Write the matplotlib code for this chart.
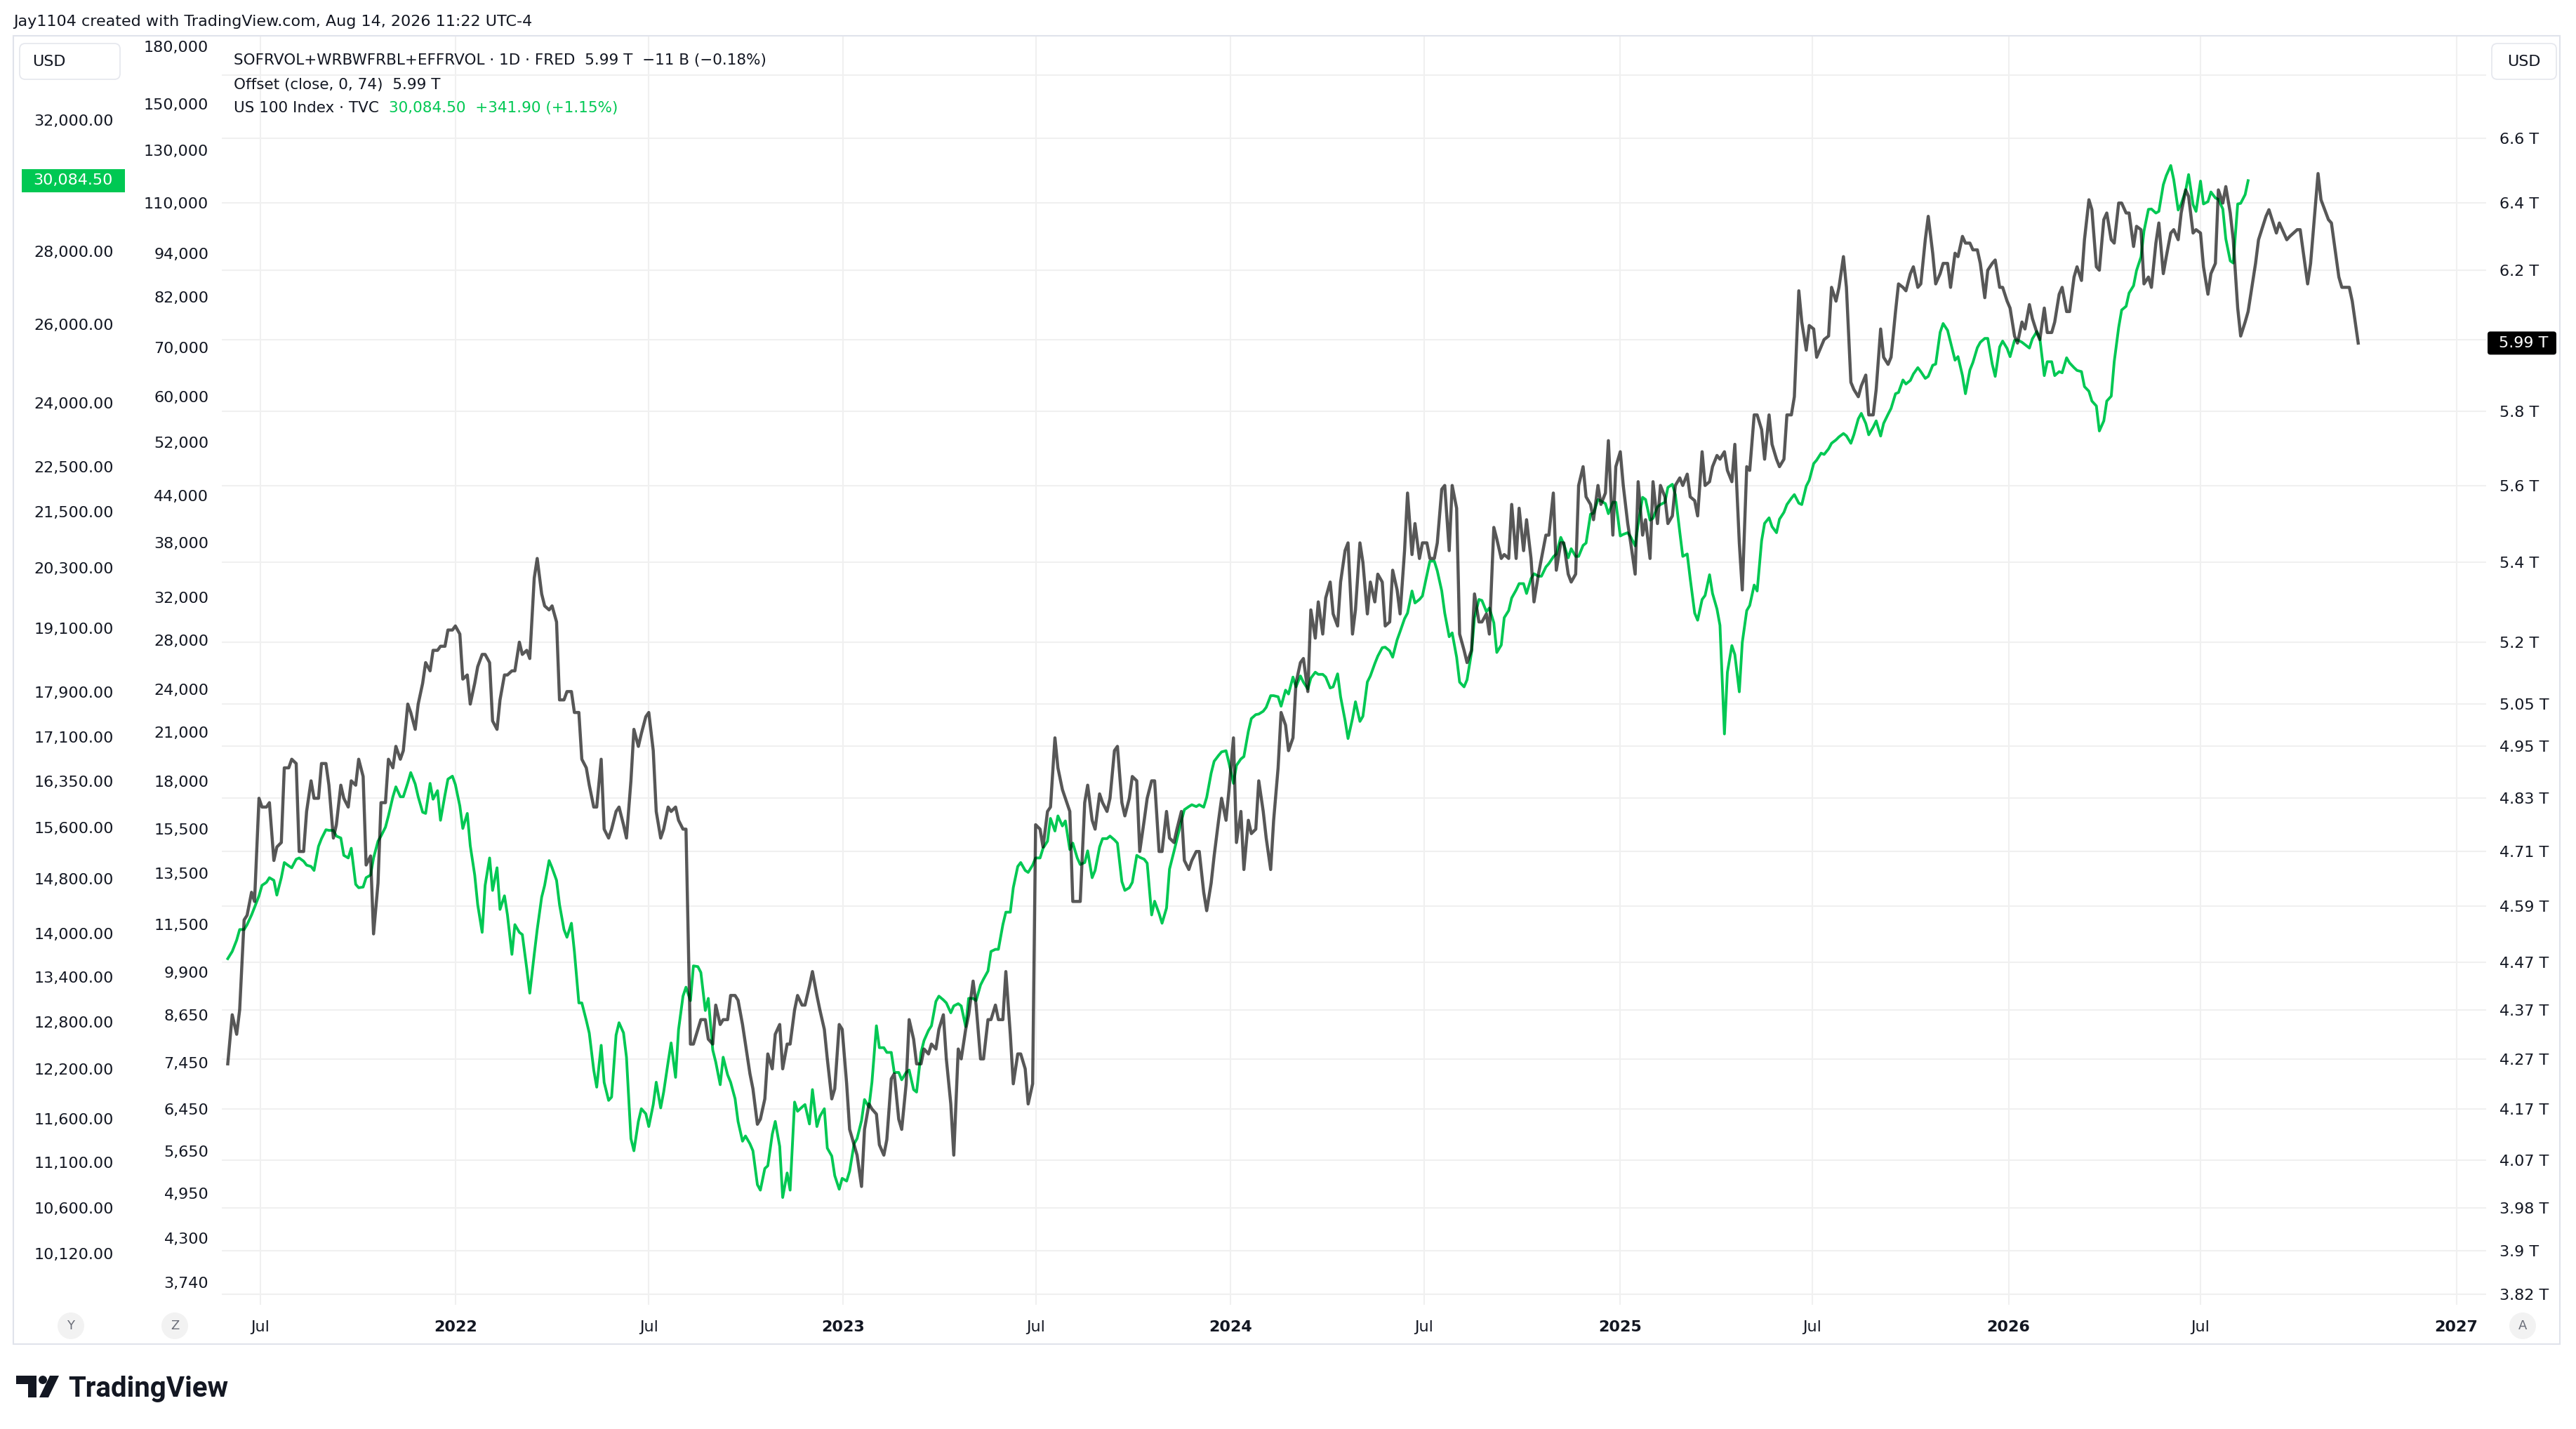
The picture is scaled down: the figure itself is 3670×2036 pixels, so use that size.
import numpy as np
import pandas as pd
import matplotlib
matplotlib.use("Agg")
import matplotlib.pyplot as plt
import matplotlib.dates as mdates
from matplotlib.patches import Rectangle, FancyBboxPatch, Ellipse, Polygon
from matplotlib.ticker import NullLocator, NullFormatter
from matplotlib.transforms import IdentityTransform

W, H = 3670, 2036
DPI = 100

# ---------------- data ----------------
LAST_BAR = "2026-08-14"
START = "2021-06-01"

# US 100 Index (TVC) - Friday readings
green_fri_dates = pd.DatetimeIndex([START]).append(
    pd.date_range("2021-06-04", LAST_BAR, freq="W-FRI"))
green_fri_values = [
    13650,
    13750, 14060, 14130, 14380, 14705, 14820, 14560, 15050, 14970, 15120,
    15010, 14930, 15420, 15550, 15460, 15160, 15270, 14670, 14820, 15120,
    15460, 15780, 16253, 16090, 16490, 16090, 15820, 16050, 15710, 16380,
    16290, 15580, 15310, 14420, 14705, 14630, 14350, 14270, 14130, 13988,
    13180, 14060, 14705, 14970, 14420, 13950, 13750, 13050, 12656, 11980,
    12038, 11860, 12790, 12350, 11230, 11720, 11510, 12040, 11920, 12530,
    12700, 13260, 13550, 13460, 13110, 12290, 12350, 12040, 11570, 11400,
    11230, 10790, 11060, 11570, 10710, 10790, 11690, 11770, 11950, 11630,
    11260, 10950, 10920, 11000, 11370, 11830, 12040, 12470, 12410, 12160,
    12070, 12190, 11920, 12560, 12750, 13140, 13050, 13010, 13010, 13110,
    13080, 13370, 13750, 13780, 14310, 14670, 15050, 14900, 15120, 15270,
    15740, 15780, 15700, 15350, 15020, 15230, 14930, 15420, 15460, 15350,
    14630, 14750, 15130, 15040, 14470, 14150, 14950, 15410, 15880, 15960,
    15960, 16080, 16680, 16840, 16650, 16610, 16760, 17420, 17500, 17620,
    17830, 17640, 17860, 17990, 18077, 18150, 18220, 18170, 17990, 17810,
    17070, 17720, 17460, 18190, 18560, 18730, 18540, 19030, 19390, 19590,
    19730, 20440, 20240, 19390, 19004, 18077, 18120, 19300, 19640, 19490,
    18630, 19300, 19690, 19979, 19780, 20180, 20130, 20390, 20590, 20800,
    20700, 20540, 20820, 21460, 21730, 21450, 21700, 21004, 20950, 21220,
    21760, 21350, 21650, 22030, 21870, 20540, 20080, 19250, 19740, 19780,
    19150, 18260, 18590, 18820, 19540, 19830, 21240, 21170, 21330, 21650,
    21870, 21650, 22190, 22650, 22780, 23040, 23190, 23214, 23240, 23750,
    23240, 23570, 23510, 23870, 24260, 24470, 24720, 24780, 24660, 24970,
    26020, 25530, 25160, 24230, 25010, 25530, 25630, 24660, 25560, 25160,
    25590, 25470, 25620, 25630, 25030, 24680, 24750, 25000, 24810, 24405,
    24050, 23330, 24050, 25030, 26380, 26840, 27460, 28580, 29230, 29160,
    30240, 30120, 29380, 30270, 29160, 29380, 29740, 29520, 28357, 27670,
    29400, 30084.5]

# US 100 Index (TVC) - Wednesday readings
green_wed_dates = pd.date_range("2021-06-09", "2026-08-12", freq="W-WED")
green_wed_values = [
    13910, 14060, 14270, 14550, 14750, 14780, 14820, 15000, 15100, 15070,
    14990, 15300, 15560, 15550, 15430, 15120, 14720, 14680, 14860, 15380,
    15600, 16090, 16090, 16320, 16300, 15840, 16310, 16190, 16120, 16430,
    15940, 15820, 14860, 14020, 15120, 14970, 14550, 13710, 14020, 13510,
    13710, 14530, 15080, 14780, 14060, 14150, 13050, 12820, 12190, 12500,
    11820, 12630, 12660, 11370, 11570, 11660, 11770, 11730, 12290, 12100,
    13140, 13080, 13540,
    12950, 12440, 12010, 12130, 11840, 11340, 11310, 10850, 11030, 11420,
    11280, 10980, 11800, 11740, 11540, 11510, 11720, 11170, 10800, 10890,
    11310, 11580, 11740, 12750, 12470, 12410, 12160, 12160, 11950, 12410,
    12690, 13070, 13090, 12920, 13040, 12740, 13110, 13290, 13480, 13780,
    14130, 14310, 14990, 14930, 15010, 15120, 15380, 15540, 15620, 15250,
    15120, 15050, 14820, 15290, 15420, 15400, 14760, 14670, 15160, 15100,
    14270,
    14290, 14370, 15220, 15700, 15930, 15930, 15920, 16480, 16780, 16860,
    16310, 16720, 17195, 17490, 17550, 17830, 17810, 17930, 18170, 18190,
    17950, 18260, 18220, 17970, 18230, 17390, 17420, 17370, 18080, 18420,
    18720, 18660, 18870, 19280, 19830, 19660, 20150, 20440, 19830, 18930,
    18540, 17990, 18630, 19660, 19420, 19200, 18770, 19440, 19850, 19979,
    20080, 20130, 20320, 20530, 20940, 20510, 20540, 20770, 21440, 21760,
    21670, 21700,
    20970, 21040, 20760, 21810, 21310, 21600, 21700, 22100, 21050, 20590,
    19390, 19660, 20160, 19470, 17150, 18760, 17900, 19440, 19950, 20870,
    21360, 21040, 21480, 21790, 21680, 22060, 22570, 22810, 22910, 23120,
    23270, 23040, 23620, 23510, 23420, 23210, 23730, 24230, 24570, 24560,
    24880, 24610, 24940, 25790, 25840, 25070, 24680, 24820, 25390, 25630,
    24970, 25410, 25370, 25580, 25530, 25380, 25810, 24680, 25030, 24780,
    25130,
    24880, 24780, 24290, 23930, 23570, 24170, 25920, 26480, 27040, 27840,
    29220, 29110, 29960, 30550, 29200, 29780, 29360, 30070, 29450, 29560,
    29230, 27730, 29380, 29660]

# Offset(close, 0, 74) of SOFRVOL+WRBWFRBL+EFFRVOL, trillions USD - Friday readings
gray_fri_dates = pd.DatetimeIndex([START]).append(
    pd.date_range("2021-06-04", "2026-10-23", freq="W-FRI")).append(
    pd.DatetimeIndex(["2026-10-27"]))
gray_fri_values = [
    4.26,
    4.36, 4.37, 4.57, 4.60, 4.81, 4.82, 4.72, 4.90, 4.92, 4.71,
    4.80, 4.83, 4.91, 4.86, 4.77, 4.83, 4.87, 4.92, 4.68, 4.53,
    4.82, 4.92, 4.95, 4.94, 5.03, 5.05, 5.15, 5.18, 5.19, 5.23,
    5.24, 5.11, 5.05, 5.14, 5.17, 5.01, 5.06, 5.12, 5.13, 5.17,
    5.16, 5.41, 5.29, 5.29, 5.06, 5.08, 5.03, 4.92, 4.86, 4.81,
    4.76, 4.76, 4.81, 4.74, 4.99, 4.98, 5.03, 4.80, 4.76, 4.80,
    4.78, 4.76, 4.30, 4.35, 4.31, 4.38, 4.35, 4.40, 4.39, 4.30,
    4.21, 4.15, 4.28, 4.32, 4.25, 4.30, 4.40, 4.38, 4.45, 4.37,
    4.27, 4.21, 4.33, 4.13, 4.08, 4.13, 4.17, 4.10, 4.11, 4.24,
    4.13, 4.35, 4.26, 4.29, 4.30, 4.33, 4.27, 4.08, 4.27, 4.36,
    4.38, 4.27, 4.35, 4.35, 4.45, 4.22, 4.28, 4.18, 4.77, 4.72,
    4.81, 4.90, 4.83, 4.60, 4.60, 4.86, 4.76, 4.82, 4.83, 4.95,
    4.79, 4.88, 4.71, 4.83, 4.87, 4.71, 4.74, 4.76, 4.69, 4.69,
    4.71, 4.58, 4.70, 4.83, 4.85, 4.73, 4.67, 4.75, 4.87, 4.74,
    4.78, 5.03, 4.94, 5.10, 5.16, 5.28, 5.30, 5.31, 5.27, 5.35,
    5.45, 5.28, 5.40, 5.35, 5.37, 5.24, 5.38, 5.27, 5.58, 5.50,
    5.45, 5.41, 5.45, 5.60, 5.60, 5.22, 5.15, 5.32, 5.25, 5.22,
    5.46, 5.42, 5.55, 5.54, 5.51, 5.30, 5.41, 5.47, 5.38, 5.45,
    5.35, 5.60, 5.57, 5.51, 5.55, 5.72, 5.65, 5.60, 5.45, 5.61,
    5.51, 5.61, 5.60, 5.50, 5.60, 5.60, 5.57, 5.52, 5.60, 5.65,
    5.67, 5.64, 5.71, 5.33, 5.64, 5.79, 5.67, 5.71, 5.65, 5.79,
    5.84, 6.05, 6.04, 5.95, 6.00, 6.15, 6.15, 6.15, 5.86, 5.87,
    5.79, 5.86, 5.95, 5.95, 6.16, 6.14, 6.21, 6.16, 6.36, 6.16,
    6.22, 6.15, 6.24, 6.28, 6.26, 6.22, 6.20, 6.23, 6.15, 6.09,
    5.99, 6.03, 6.06, 6.00, 6.02, 6.05, 6.15, 6.08, 6.21, 6.29,
    6.38, 6.20, 6.37, 6.28, 6.40, 6.37, 6.33, 6.16, 6.15, 6.34,
    6.24, 6.32, 6.37, 6.42, 6.32, 6.21, 6.19, 6.44, 6.45, 6.29,
    6.01, 6.08,
    6.29, 6.38, 6.34, 6.30, 6.32, 6.22, 6.41, 6.34, 6.15, 6.11,
    5.99]

# Offset series - Wednesday readings
gray_wed_dates = pd.date_range("2021-06-09", "2026-10-21", freq="W-WED")
gray_wed_values = [
    4.32, 4.56, 4.62, 4.83, 4.81, 4.69, 4.73, 4.90, 4.91, 4.71,
    4.87, 4.83, 4.91, 4.74, 4.86, 4.81, 4.86, 4.88, 4.70, 4.64,
    4.82, 4.90, 4.92, 5.05, 4.99, 5.10, 5.13, 5.18, 5.19, 5.23,
    5.22, 5.12, 5.10, 5.17, 5.15, 4.99, 5.12, 5.13, 5.20, 5.18,
    5.36, 5.32, 5.28, 5.25, 5.06, 5.08, 5.03, 4.90, 4.81, 4.92,
    4.74, 4.80, 4.77, 4.87, 4.95, 5.02, 4.94, 4.74, 4.81, 4.81,
    4.76, 4.30, 4.33,
    4.35, 4.30, 4.34, 4.35, 4.40, 4.34, 4.24, 4.14, 4.19, 4.25,
    4.34, 4.30, 4.37, 4.38, 4.42, 4.40, 4.33, 4.19, 4.34, 4.22,
    4.10, 4.02, 4.18, 4.16, 4.08, 4.23, 4.15, 4.22, 4.31, 4.26,
    4.28, 4.29, 4.36, 4.18, 4.29, 4.33, 4.43, 4.27, 4.35, 4.38,
    4.35, 4.32, 4.28, 4.25, 4.22, 4.76, 4.80, 4.97, 4.85, 4.80,
    4.60, 4.82, 4.78, 4.84, 4.80, 4.94, 4.82, 4.83, 4.87, 4.78,
    4.87,
    4.71, 4.80, 4.73, 4.80, 4.67, 4.71, 4.62, 4.64, 4.78, 4.78,
    4.97, 4.80, 4.78, 4.76, 4.80, 4.67, 4.90, 5.00, 4.97, 5.15,
    5.08, 5.21, 5.22, 5.35, 5.24, 5.43, 5.22, 5.45, 5.27, 5.30,
    5.35, 5.25, 5.33, 5.43, 5.42, 5.41, 5.45, 5.41, 5.59, 5.43,
    5.54, 5.18, 5.18, 5.25, 5.27, 5.49, 5.41, 5.41, 5.41, 5.43,
    5.41, 5.37, 5.47, 5.58, 5.45, 5.37, 5.37, 5.65, 5.55, 5.60,
    5.58, 5.47,
    5.69, 5.50, 5.37, 5.47, 5.41, 5.50, 5.57, 5.52, 5.62, 5.63,
    5.56, 5.69, 5.61, 5.68, 5.69, 5.61, 5.45, 5.65, 5.79, 5.75,
    5.79, 5.67, 5.67, 5.79, 6.14, 5.97, 6.03, 5.98, 6.01, 6.11,
    6.24, 5.88, 5.84, 5.90, 5.79, 6.03, 5.93, 6.08, 6.15, 6.19,
    6.15, 6.29, 6.25, 6.19, 6.22, 6.25, 6.30, 6.28, 6.26, 6.12,
    6.22, 6.15, 6.11, 6.01, 6.05, 6.10, 6.02, 6.09, 6.02, 6.13,
    6.08,
    6.18, 6.17, 6.41, 6.21, 6.35, 6.29, 6.40, 6.37, 6.27, 6.32,
    6.18, 6.28, 6.19, 6.31, 6.29, 6.44, 6.31, 6.31, 6.13, 6.22,
    6.40, 6.37, 6.09, 6.05,
    6.22, 6.36, 6.31, 6.29, 6.32, 6.16, 6.49, 6.35, 6.18, 6.15]

green_ticks = [32000, 28000, 26000, 24000, 22500, 21500, 20300, 19100, 17900,
               17100, 16350, 15600, 14800, 14000, 13400, 12800, 12200, 11600,
               11100, 10600, 10120]
inner_ticks = [180000, 150000, 130000, 110000, 94000, 82000, 70000, 60000,
               52000, 44000, 38000, 32000, 28000, 24000, 21000, 18000, 15500,
               13500, 11500, 9900, 8650, 7450, 6450, 5650, 4950, 4300, 3740]
gray_ticks = [6.8, 6.6, 6.4, 6.2, 6.0, 5.8, 5.6, 5.4, 5.2, 5.05, 4.95, 4.83,
              4.71, 4.59, 4.47, 4.37, 4.27, 4.17, 4.07, 3.98, 3.9, 3.82]
gray_tick_labels = ["", "6.6 T", "6.4 T", "6.2 T", "", "5.8 T", "5.6 T",
                    "5.4 T", "5.2 T", "5.05 T", "4.95 T", "4.83 T", "4.71 T",
                    "4.59 T", "4.47 T", "4.37 T", "4.27 T", "4.17 T", "4.07 T",
                    "3.98 T", "3.9 T", "3.82 T"]
x_tick_dates = ["2021-07-01", "2022-01-01", "2022-07-01", "2023-01-01",
                "2023-07-01", "2024-01-01", "2024-07-01", "2025-01-01",
                "2025-07-01", "2026-01-01", "2026-07-01", "2027-01-01"]
x_tick_labels = ["Jul", "2022", "Jul", "2023", "Jul", "2024", "Jul", "2025",
                 "Jul", "2026", "Jul", "2027"]

GREEN = "#00c853"
TXT = "#131722"
GRID = "#f0f0f0"

# ---------------- bar-based time scale (TradingView style) ----------------
bdays = pd.bdate_range("2020-11-02", LAST_BAR)
fdays = pd.date_range(pd.Timestamp(LAST_BAR) + pd.Timedelta(days=1), "2027-08-01")
alld = bdays.append(fdays)
XP = mdates.date2num(alld.to_pydatetime())
FP = np.arange(len(alld), dtype=float)


def fwd(x):
    return np.interp(np.asarray(x, dtype=float), XP, FP)


def inv(b):
    return np.interp(np.asarray(b, dtype=float), FP, XP)


def dnum(d):
    return mdates.date2num(pd.DatetimeIndex(d).to_pydatetime())


def merge(d1, v1, d2, v2):
    n1 = min(len(d1), len(v1)); n2 = min(len(d2), len(v2))
    x = np.concatenate([dnum(d1[:n1]), dnum(d2[:n2])])
    y = np.concatenate([np.asarray(v1[:n1], float), np.asarray(v2[:n2], float)])
    o = np.argsort(x, kind="stable")
    return x[o], y[o]


gx, gy = merge(green_fri_dates, green_fri_values, green_wed_dates, green_wed_values)
kx, ky = merge(gray_fri_dates, gray_fri_values, gray_wed_dates, gray_wed_values)

# ---------------- figure ----------------
plt.rcParams["font.family"] = ["DejaVu Sans"]
fig = plt.figure(figsize=(W / DPI, H / DPI), dpi=DPI)
fig.patch.set_facecolor("white")
PX = IdentityTransform()

L, R, T, B = 316, 3542, 52, 1859
ax = fig.add_axes([L / W, 1 - B / H, (R - L) / W, (B - T) / H])
ax.set_xscale("function", functions=(fwd, inv))
ax.set_yscale("log")

ax_green = ax.twinx()
ax_inner = ax.twinx()
ax_gray = ax.twinx()

GRAY_LIM = (3.8013, 6.9245)
for a in (ax, ax_gray):
    a.set_yscale("log")
    a.set_ylim(*GRAY_LIM)
ax_green.set_yscale("log"); ax_green.set_ylim(9604, 34828)
ax_inner.set_yscale("log"); ax_inner.set_ylim(3489, 185423)

ax.set_xlim(dnum(["2021-05-26"])[0], dnum(["2027-01-21"])[0])

for a in (ax, ax_green, ax_inner, ax_gray):
    for s in a.spines.values():
        s.set_visible(False)
    a.yaxis.set_minor_locator(NullLocator())
    a.yaxis.set_minor_formatter(NullFormatter())

# base axes: grid + right price scale + time axis
ax.set_yticks(gray_ticks, gray_tick_labels)
ax.yaxis.set_minor_locator(NullLocator())
ax.yaxis.tick_right()
ax.tick_params(axis="y", which="both", length=0, pad=13.5, labelsize=16,
               labelcolor=TXT)
ax.set_xticks(dnum(x_tick_dates), x_tick_labels)
ax.xaxis.set_minor_locator(NullLocator())
ax.tick_params(axis="x", length=0, pad=16, labelsize=16, labelcolor=TXT)
for lab in ax.get_xticklabels():
    if lab.get_text().isdigit():
        lab.set_fontweight("bold")
ax.grid(True, color=GRID, lw=1.5)
ax.set_axisbelow(True)

# green scale (outer left)
ax_green.plot(gx, gy, color=GREEN, lw=2.8, solid_joinstyle="round")
ax_green.yaxis.set_ticks_position("left")
ax_green.set_yticks(green_ticks, [f"{v:,.2f}" for v in green_ticks])
ax_green.yaxis.set_minor_locator(NullLocator())
ax_green.tick_params(axis="y", which="both", length=0, pad=111, labelsize=16,
                     labelcolor=TXT, left=False, right=False)

# inner left scale
ax_inner.yaxis.set_ticks_position("left")
ax_inner.set_yticks(inner_ticks, [f"{v:,}" for v in inner_ticks])
ax_inner.yaxis.set_minor_locator(NullLocator())
ax_inner.tick_params(axis="y", which="both", length=0, pad=13.5, labelsize=16,
                     labelcolor=TXT, left=False, right=False)

# gray offset series
ax_gray.plot(kx, ky, color="black", alpha=0.66, lw=3.2, solid_joinstyle="round")
ax_gray.set_yticks([])
ax_gray.tick_params(axis="y", which="both", left=False, right=False,
                    labelleft=False, labelright=False)

# ---------------- decorations (pixel coordinates) ----------------
def P(x, y):
    return (x, H - y)


fig.add_artist(Rectangle(P(19, 1915), 3628, 1864, transform=PX, fill=False,
                         edgecolor="#e0e3eb", lw=1.5))

fig.text(*P(19, 31), "Jay1104 created with TradingView.com, Aug 14, 2026 11:22 UTC-4",
         transform=PX, fontsize=16, color=TXT, va="center", ha="left")

LEG = 15.5
fig.text(*P(333, 86), "SOFRVOL+WRBWFRBL+EFFRVOL · 1D · FRED  5.99 T  \u221211 B (\u22120.18%)",
         transform=PX, fontsize=LEG, color=TXT, va="center", ha="left")
fig.text(*P(333, 121), "Offset (close, 0, 74)  5.99 T", transform=PX,
         fontsize=LEG, color=TXT, va="center", ha="left")
t3 = fig.text(*P(333, 154), "US 100 Index · TVC", transform=PX,
              fontsize=LEG, color=TXT, va="center", ha="left")
fig.add_artist(matplotlib.text.Annotation(
    "30,084.50  +341.90 (+1.15%)", xy=(1, 0.5), xycoords=t3,
    xytext=(14, 0), textcoords="offset pixels", va="center", ha="left",
    fontsize=LEG, color=GREEN))

# USD boxes
for (x0, x1) in ((28, 171), (3550, 3642)):
    fig.add_artist(FancyBboxPatch(P(x0, 113), x1 - x0, 51, transform=PX,
                                  boxstyle="round,pad=0,rounding_size=8",
                                  facecolor="white", edgecolor="#e6e8ee", lw=1.3))
fig.text(*P(46, 88), "USD", transform=PX, fontsize=16, color=TXT,
         va="center", ha="left")
fig.text(*P(3596, 88), "USD", transform=PX, fontsize=16, color=TXT,
         va="center", ha="center")

# last-value labels
yg = ax_green.transData.transform((gx[-1], gy[-1]))[1]
fig.add_artist(Rectangle((31, yg - 16.5), 147, 33, transform=PX,
                         facecolor=GREEN, edgecolor="none"))
fig.text(104, yg, "30,084.50", transform=PX, fontsize=16, color="white",
         va="center", ha="center")
yk = ax_gray.transData.transform((kx[-1], ky[-1]))[1]
fig.add_artist(FancyBboxPatch((3544, yk - 16.5), 98, 33, transform=PX,
                              boxstyle="round,pad=0,rounding_size=4",
                              facecolor="black", edgecolor="none"))
fig.text(3560, yk, "5.99 T", transform=PX, fontsize=16, color="white",
         va="center", ha="left")

# bottom buttons
for (cx, lab) in ((101, "Y"), (249, "Z"), (3594, "A")):
    fig.add_artist(Ellipse(P(cx, 1889), 38, 38, transform=PX,
                           facecolor="#f2f2f2", edgecolor="none"))
    fig.text(*P(cx, 1889), lab, transform=PX, fontsize=13, color="#6a6d78",
             va="center", ha="center")

# TradingView logo
fig.add_artist(Rectangle(P(23, 1972), 29, 12, transform=PX, facecolor="#131722",
                         edgecolor="none"))
fig.add_artist(Rectangle(P(40, 1991), 12, 31, transform=PX, facecolor="#131722",
                         edgecolor="none"))
fig.add_artist(Ellipse(P(61, 1966), 12, 12, transform=PX, facecolor="#131722",
                       edgecolor="none"))
fig.add_artist(Polygon([P(71, 1960), P(84, 1960), P(69, 1991), P(56, 1991)],
                       closed=True, transform=PX, facecolor="#131722",
                       edgecolor="none"))
fig.text(*P(97, 1990), "TradingView", transform=PX, fontsize=29,
         family=["Roboto", "DejaVu Sans"], fontweight="bold", color="#131722",
         va="baseline", ha="left")

fig.savefig("out.png", dpi=DPI, facecolor="white")
